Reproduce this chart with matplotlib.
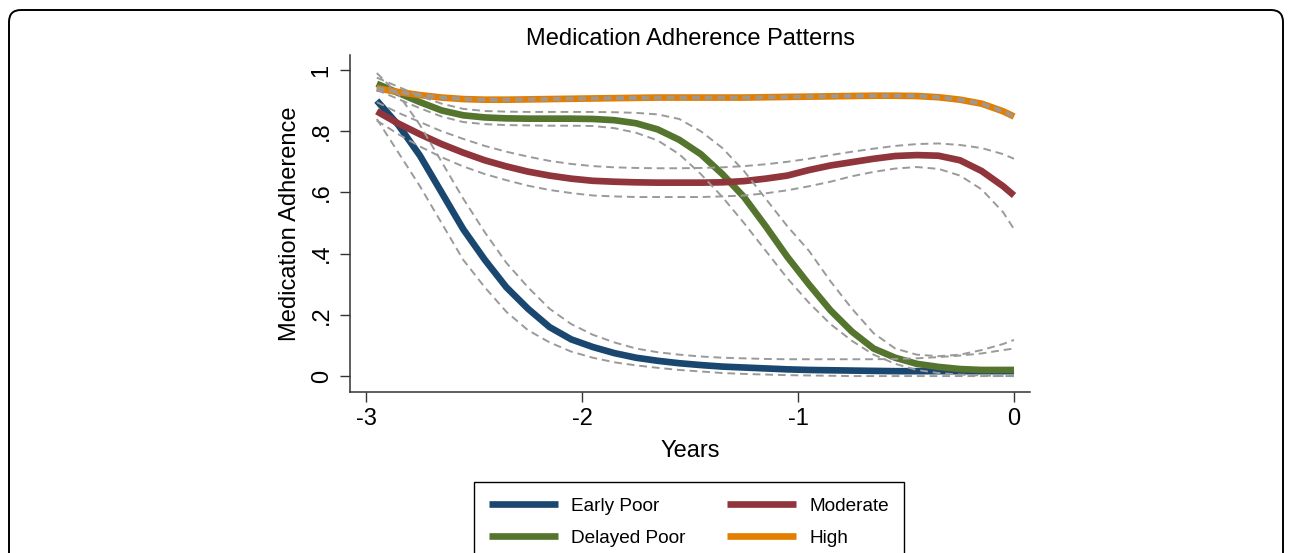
import matplotlib.pyplot as plt
from matplotlib.patches import FancyBboxPatch

plt.rcParams['font.family'] = ['Liberation Sans', 'DejaVu Sans']

years = [-2.95, -2.85, -2.75, -2.65, -2.55, -2.45, -2.35, -2.25, -2.15, -2.05,
         -1.95, -1.85, -1.75, -1.65, -1.55, -1.45, -1.35, -1.25, -1.15, -1.05,
         -0.95, -0.85, -0.75, -0.65, -0.55, -0.45, -0.35, -0.25, -0.15, -0.05, 0.0]

early_poor = [0.90, 0.82, 0.72, 0.60, 0.48, 0.38, 0.29, 0.22, 0.16, 0.12,
              0.095, 0.075, 0.06, 0.05, 0.042, 0.036, 0.031, 0.028, 0.025, 0.022,
              0.02, 0.019, 0.018, 0.017, 0.016, 0.016, 0.016, 0.016, 0.016, 0.016, 0.016]
early_poor_hi = [0.99, 0.92, 0.82, 0.70, 0.58, 0.47, 0.37, 0.29, 0.22, 0.17,
                 0.135, 0.11, 0.09, 0.078, 0.07, 0.064, 0.06, 0.058, 0.056, 0.055,
                 0.055, 0.055, 0.055, 0.055, 0.056, 0.058, 0.062, 0.067, 0.074, 0.085, 0.09]
early_poor_lo = [0.84, 0.73, 0.62, 0.50, 0.38, 0.29, 0.21, 0.15, 0.11, 0.08,
                 0.06, 0.045, 0.035, 0.027, 0.02, 0.015, 0.01, 0.007, 0.005, 0.003,
                 0.002, 0.001, 0.0, 0.0, 0.0, 0.0, 0.0, 0.0, 0.0, 0.0, 0.0]

delayed_poor = [0.955, 0.925, 0.895, 0.868, 0.852, 0.845, 0.842, 0.841, 0.841, 0.841,
                0.84, 0.836, 0.826, 0.806, 0.772, 0.725, 0.66, 0.585, 0.49, 0.39,
                0.30, 0.215, 0.145, 0.09, 0.06, 0.04, 0.03, 0.023, 0.02, 0.02, 0.02]
delayed_poor_hi = [0.975, 0.945, 0.915, 0.89, 0.873, 0.866, 0.864, 0.863, 0.863, 0.863,
                   0.863, 0.862, 0.86, 0.855, 0.84, 0.80, 0.745, 0.67, 0.58, 0.49,
                   0.41, 0.31, 0.22, 0.14, 0.09, 0.07, 0.065, 0.07, 0.085, 0.105, 0.118]
delayed_poor_lo = [0.935, 0.905, 0.875, 0.848, 0.83, 0.823, 0.82, 0.819, 0.818, 0.818,
                   0.817, 0.81, 0.795, 0.77, 0.725, 0.66, 0.585, 0.50, 0.41, 0.32,
                   0.24, 0.17, 0.115, 0.07, 0.04, 0.02, 0.01, 0.005, 0.002, 0.0, 0.0]

moderate = [0.865, 0.825, 0.79, 0.758, 0.73, 0.705, 0.685, 0.668, 0.655, 0.645,
            0.638, 0.635, 0.633, 0.632, 0.632, 0.632, 0.633, 0.637, 0.645, 0.655,
            0.673, 0.688, 0.699, 0.71, 0.719, 0.722, 0.72, 0.705, 0.67, 0.62, 0.59]
moderate_hi = [0.895, 0.86, 0.83, 0.80, 0.775, 0.752, 0.733, 0.717, 0.703, 0.693,
               0.686, 0.682, 0.68, 0.679, 0.679, 0.68, 0.682, 0.686, 0.692, 0.70,
               0.71, 0.722, 0.733, 0.743, 0.752, 0.758, 0.76, 0.755, 0.745, 0.725, 0.71]
moderate_lo = [0.835, 0.79, 0.75, 0.715, 0.685, 0.66, 0.64, 0.622, 0.608, 0.598,
               0.59, 0.587, 0.585, 0.585, 0.585, 0.585, 0.587, 0.59, 0.597, 0.607,
               0.62, 0.635, 0.653, 0.667, 0.678, 0.683, 0.677, 0.655, 0.61, 0.535, 0.48]

high = [0.94, 0.928, 0.918, 0.91, 0.905, 0.903, 0.903, 0.904, 0.905, 0.906,
        0.907, 0.908, 0.909, 0.91, 0.91, 0.91, 0.91, 0.91, 0.911, 0.912,
        0.913, 0.914, 0.915, 0.916, 0.916, 0.915, 0.911, 0.903, 0.89, 0.865, 0.848]
high_hi = [v + 0.003 for v in high]
high_lo = [v - 0.003 for v in high]

labels = ["Early Poor", "Delayed Poor", "Moderate", "High"]
colors = ["#1a476f", "#55752f", "#90353b", "#e37e00"]
means = [early_poor, delayed_poor, moderate, high]
uppers = [early_poor_hi, delayed_poor_hi, moderate_hi, high_hi]
lowers = [early_poor_lo, delayed_poor_lo, moderate_lo, high_lo]

fig = plt.figure(figsize=(12.92, 5.53), dpi=100)
ax = fig.add_axes([350 / 1292, 1 - 392 / 553, 680 / 1292, 337 / 553])

handles = []
for lab, col, m in zip(labels, colors, means):
    h, = ax.plot(years, m, color=col, lw=4.8, solid_capstyle='butt',
                 solid_joinstyle='round', label=lab, zorder=2)
    handles.append(h)

# confidence bands, drawn on top of the mean lines
for hi, lo in zip(uppers, lowers):
    for ci in (hi, lo):
        ax.plot(years, ci, color="#9a9a9a", lw=1.4, dashes=(4, 2.5), zorder=3)

ax.set_xlim(-3.074, 0.074)
ax.set_ylim(-0.052, 1.049)
ax.set_xticks([-3, -2, -1, 0])
ax.set_xticklabels(["-3", "-2", "-1", "0"])
ax.set_yticks([0, 0.2, 0.4, 0.6, 0.8, 1.0])
ax.set_yticklabels(["0", ".2", ".4", ".6", ".8", "1"], rotation=90, va='center')
ax.tick_params(labelsize=17, length=7.5, width=1, color="#333333", pad=4)
ax.tick_params(axis='y', pad=5)
for s in ("top", "right"):
    ax.spines[s].set_visible(False)
for s in ("left", "bottom"):
    ax.spines[s].set_color("#333333")
    ax.spines[s].set_linewidth(1.1)

ax.set_title("Medication Adherence Patterns", fontsize=17, pad=7)
ax.set_xlabel("Years", fontsize=17, labelpad=7)
ax.set_ylabel("Medication Adherence", fontsize=17, labelpad=7)

leg = fig.legend(handles=handles, labels=labels, ncol=2, loc='upper center',
                 bbox_to_anchor=(689 / 1292, 1 - 482 / 553), bbox_transform=fig.transFigure,
                 borderaxespad=0, fontsize=13.7, frameon=True, fancybox=False,
                 edgecolor="black", framealpha=1, handlelength=3.6, handletextpad=0.7,
                 columnspacing=2.2, labelspacing=0.8, borderpad=0.8)
leg.get_frame().set_linewidth(1.0)

frame = FancyBboxPatch((0.09, -0.5), 12.74, 5.93,
                       boxstyle="round,pad=0,rounding_size=0.12",
                       transform=fig.dpi_scale_trans, fill=False,
                       lw=1.4, ec="black")
fig.add_artist(frame)

fig.savefig("out.png", dpi=100)
